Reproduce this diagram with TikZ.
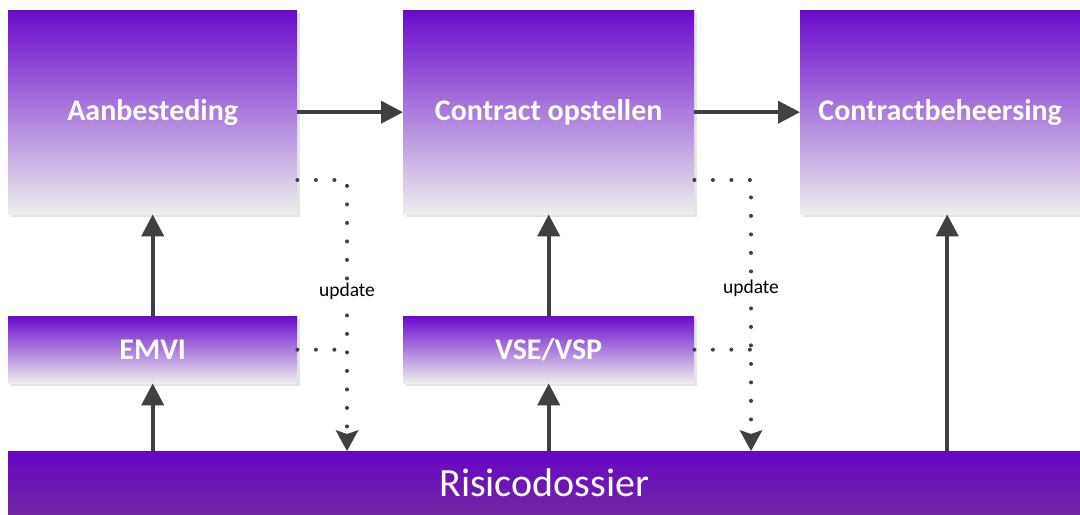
\documentclass[tikz,border=0pt]{standalone}
\usepackage{fontspec}
\setmainfont{Carlito}
\usetikzlibrary{arrows.meta,shadows}
\definecolor{violetTop}{RGB}{106,10,204}
\definecolor{paleBottom}{RGB}{238,238,238}
\definecolor{barTop}{RGB}{102,6,198}
\definecolor{barBottom}{RGB}{114,38,162}
\definecolor{arrowGray}{RGB}{64,64,64}
\definecolor{shadowGray}{RGB}{228,228,228}
\tikzset{
  stagebox/.style={rectangle, inner sep=0pt, anchor=north west,
    top color=violetTop, bottom color=paleBottom,
    general shadow={fill=shadowGray, shadow xshift=3bp, shadow yshift=-3bp},
    text=white, font=\fontsize{30bp}{36bp}\selectfont\bfseries},
  bigstage/.style={stagebox, minimum height=204bp},
  smallstage/.style={stagebox, minimum height=67bp},
  basebar/.style={rectangle, inner sep=0pt, anchor=north west,
    top color=barTop, bottom color=barBottom,
    minimum width=1072bp, minimum height=64bp,
    text=white, font=\fontsize{40bp}{48bp}\selectfont},
  flow/.style={line width=4bp, draw=arrowGray,
    -{Triangle[length=22bp,width=22bp]}},
  feedback/.style={line width=4bp, draw=arrowGray, line cap=round,
    dash pattern=on 0bp off 18.5bp,
    -{Stealth[length=21bp,width=23bp,inset=4bp,line width=0pt]}},
  feedbackjoin/.style={line width=4bp, draw=arrowGray, line cap=round,
    dash pattern=on 0bp off 18.5bp},
  tag/.style={fill=white, inner sep=1bp, text=black,
    font=\fontsize{19.5bp}{23bp}\selectfont}
}
\begin{document}
\begin{tikzpicture}[x=1bp,y=-1bp]
\useasboundingbox[fill=white] (0,0) rectangle (1080,515);

% process stages
\node[bigstage, minimum width=289bp] (aan) at (8,10) {Aanbesteding};
\node[bigstage, minimum width=291bp] (opst) at (403,10) {Contract opstellen};
\node[bigstage, minimum width=280bp] (beh) at (800,10) {Contractbeheersing};

% instruments
\node[smallstage, minimum width=289bp] (emvi) at (8,316) {EMVI};
\node[smallstage, minimum width=291bp] (vse) at (403,316) {VSE/VSP};

% risk file
\node[basebar] (risico) at (8,451) {Risicodossier};

% corners of the update loops
\coordinate (t1) at (347,180);
\coordinate (t2) at (751,180);

% main flow
\draw[flow] (aan.east) -- (opst.west);
\draw[flow] (opst.east) -- (beh.west);

% feeding arrows
\draw[flow] (emvi.north) -- (aan.south);
\draw[flow] (risico.north -| emvi.south) -- (emvi.south);
\draw[flow] (vse.north) -- (opst.south);
\draw[flow] (risico.north -| vse.south) -- (vse.south);
\draw[flow] ([xshift=7bp]risico.north -| beh.south) -- ([xshift=7bp]beh.south);

% update loops back to the risk file
\draw[feedback] (aan.east |- t1) -- (t1) -- (t1 |- risico.north)
  node[tag, pos=0.41] {update};
\draw[feedbackjoin] (emvi.east) -- (t1 |- emvi.east);
\draw[feedback] (opst.east |- t2) -- (t2) -- (t2 |- risico.north)
  node[tag, pos=0.40] {update};
\draw[feedbackjoin] (vse.east) -- (t2 |- vse.east);
\end{tikzpicture}
\end{document}
